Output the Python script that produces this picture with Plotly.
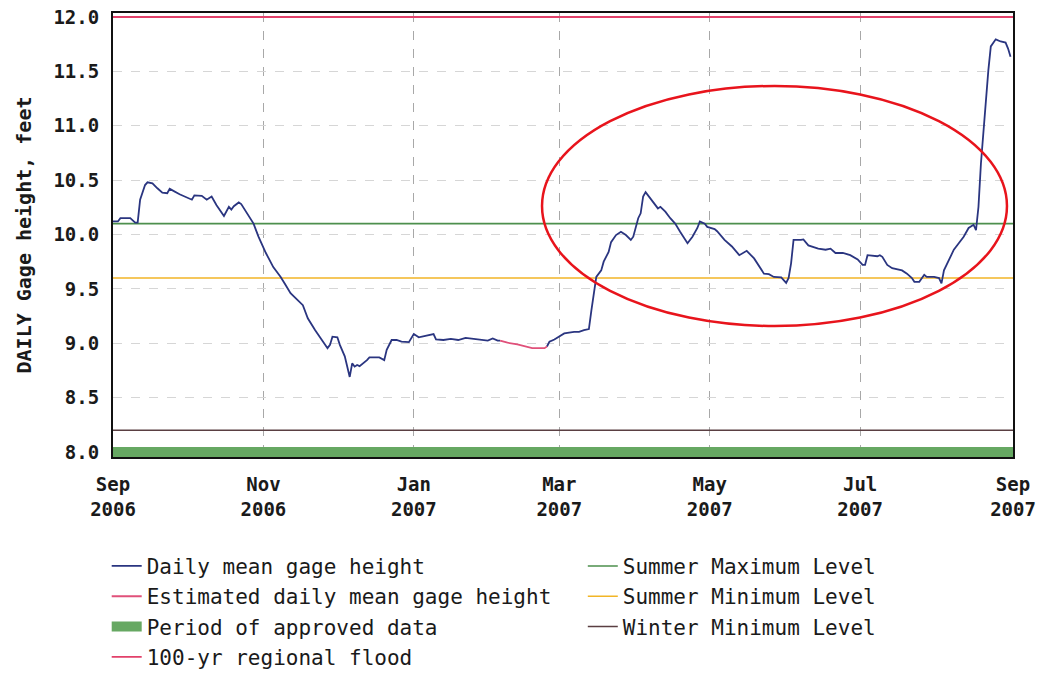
import pandas as pd
import plotly.graph_objects as go

# Gage record: days counted from 2006-09-01, values in feet
start = pd.Timestamp("2006-09-01")
end = pd.Timestamp("2007-09-01")

fall_day = [0, 2, 3, 7, 9, 10, 11, 13, 14, 16, 18, 20, 22, 23, 27, 32, 33, 36, 38, 40,
            42, 45, 47, 48, 49, 51, 52, 54, 57, 59, 62, 65, 68, 70, 72, 77, 79, 82, 85, 87,
            88, 89, 91, 92, 94, 95, 96, 97, 98, 99, 100, 103, 104, 108, 110, 111, 113, 115, 117, 120,
            122, 124, 126, 130, 131, 134, 137, 140, 143, 147, 152, 154, 156, 157]
fall_ft = [10.12, 10.12, 10.15, 10.15, 10.11, 10.11, 10.32, 10.455, 10.48, 10.47, 10.425, 10.385, 10.38, 10.42, 10.37,
           10.32, 10.36, 10.355, 10.32, 10.35, 10.27, 10.17, 10.255, 10.23, 10.26, 10.295, 10.28, 10.21, 10.10, 9.98,
           9.83, 9.70, 9.61, 9.535, 9.46, 9.35, 9.23, 9.12, 9.015, 8.955, 8.985, 9.06, 9.055, 8.985, 8.88,
           8.77, 8.69, 8.815, 8.785, 8.80, 8.79, 8.845, 8.87, 8.87, 8.845, 8.94, 9.03, 9.03, 9.015, 9.01,
           9.085, 9.055, 9.065, 9.085, 9.035, 9.03, 9.04, 9.03, 9.05, 9.04, 9.025, 9.045, 9.025, 9.025]

est_day = [157, 160, 164, 167, 170, 175, 176]
est_ft = [9.025, 9.005, 8.99, 8.975, 8.955, 8.955, 8.97]

spring_day = [176, 177, 179, 181, 183, 187, 189, 191, 193, 194, 195, 196, 198, 199, 201, 202, 204, 206, 208, 210,
              211, 212, 213, 214, 215, 216, 217, 219, 221, 222, 224, 226, 228, 230, 232, 233, 235, 237, 238, 240,
              241, 244, 245, 248, 251, 254, 257, 260, 264, 266, 268, 271, 273, 274, 275, 276, 279, 280, 282, 286,
              289, 291, 293, 296, 299, 302, 304, 305, 306, 310, 311, 312, 314, 316, 320, 322, 324, 325, 327, 329,
              330, 333, 335, 336, 337, 339, 341, 343, 345, 347, 349, 350, 351, 352, 353, 354, 355, 356, 358, 360,
              362, 363, 364]
spring_ft = [8.97, 9.015, 9.035, 9.065, 9.09, 9.105, 9.105, 9.12, 9.13, 9.30,
             9.44, 9.61, 9.67, 9.75, 9.84, 9.93, 9.995, 10.025, 9.995, 9.95,
             9.98, 10.07, 10.15, 10.195, 10.35, 10.39, 10.36, 10.29, 10.24, 10.255,
             10.21, 10.15, 10.10, 10.025, 9.95, 9.92, 9.98, 10.06, 10.12, 10.10,
             10.07, 10.05, 10.03, 9.95, 9.89, 9.81, 9.85, 9.78, 9.64, 9.635,
             9.61, 9.605, 9.555, 9.60, 9.735, 9.95, 9.95, 9.955, 9.90, 9.87,
             9.86, 9.87, 9.83, 9.83, 9.81, 9.77, 9.72, 9.72, 9.81, 9.80,
             9.81, 9.795, 9.72, 9.69, 9.67, 9.64, 9.60, 9.565, 9.565, 9.63,
             9.61, 9.61, 9.60, 9.55, 9.67, 9.77, 9.86, 9.92, 9.98, 10.06,
             10.09, 10.04, 10.255, 10.655, 10.96, 11.27, 11.51, 11.73, 11.795, 11.775,
             11.765, 11.71, 11.635]

# Reference levels, feet
flood_100yr = 12.0
summer_max = 10.1
summer_min = 9.6
winter_min = 8.2
approved_level = 8.0

mono = "DejaVu Sans Mono"


def to_dates(days):
    return [(start + pd.Timedelta(days=d)).strftime("%Y-%m-%d") for d in days]


blue_x = to_dates(fall_day) + [None] + to_dates(spring_day)
blue_y = fall_ft + [None] + spring_ft
span = [start.strftime("%Y-%m-%d"), end.strftime("%Y-%m-%d")]

fig = go.Figure()

fig.add_trace(go.Scatter(
    x=span, y=[approved_level] * 2, mode="lines",
    line=dict(color="#66a862", width=10),
    name="Period of approved data", legend="legend", legendrank=3,
))
fig.add_trace(go.Scatter(
    x=span, y=[winter_min] * 2, mode="lines",
    line=dict(color="#5a3f42", width=1.6),
    name="Winter Minimum Level", legend="legend2", legendrank=3,
))
fig.add_trace(go.Scatter(
    x=span, y=[summer_min] * 2, mode="lines",
    line=dict(color="#f2b526", width=1.6),
    name="Summer Minimum Level", legend="legend2", legendrank=2,
))
fig.add_trace(go.Scatter(
    x=span, y=[summer_max] * 2, mode="lines",
    line=dict(color="#4d8f4d", width=1.6),
    name="Summer Maximum Level", legend="legend2", legendrank=1,
))
fig.add_trace(go.Scatter(
    x=span, y=[flood_100yr] * 2, mode="lines",
    line=dict(color="#e2416a", width=1.8),
    name="100-yr regional flood", legend="legend", legendrank=4,
))
fig.add_trace(go.Scatter(
    x=blue_x, y=blue_y, mode="lines", connectgaps=False,
    line=dict(color="#2a3580", width=1.8),
    name="Daily mean gage height", legend="legend", legendrank=1,
))
fig.add_trace(go.Scatter(
    x=to_dates(est_day), y=est_ft, mode="lines",
    line=dict(color="#e0507a", width=1.8),
    name="Estimated daily mean gage height", legend="legend", legendrank=2,
))

legend_font = dict(family=mono, size=21, color="#1a1a1a")

fig.update_layout(
    width=1041, height=674,
    margin=dict(l=113, r=28, t=13, b=217, autoexpand=False),
    paper_bgcolor="white", plot_bgcolor="white",
    showlegend=True,
    legend=dict(
        x=-0.007, y=-0.200,
        xanchor="left", yanchor="top", orientation="v",
        font=legend_font, bgcolor="rgba(0,0,0,0)", traceorder="normal",
    ),
    legend2=dict(
        x=0.522, y=-0.200,
        xanchor="left", yanchor="top", orientation="v",
        font=legend_font, bgcolor="rgba(0,0,0,0)", traceorder="normal",
    ),
    shapes=[dict(
        type="circle", xref="paper", yref="paper",
        x0=0.4767, x1=0.9933, y0=0.295, y1=0.8356,
        line=dict(color="#e8141c", width=2.5),
    )],
)

fig.update_xaxes(
    type="date", range=span,
    tick0=span[0], dtick="M2", tickformat="%b<br>%Y",
    showgrid=True, gridcolor="#a8a8a8", griddash="dash", gridwidth=1,
    showline=True, linecolor="#111", linewidth=2, mirror=True,
    ticks="", ticklabelstandoff=9,
    tickfont=dict(family=mono, size=19, color="#1a1a1a", weight="bold"),
    zeroline=False,
)
fig.update_yaxes(
    range=[7.954, 12.037],
    tick0=8.0, dtick=0.5, tickformat=".1f",
    showgrid=True, gridcolor="#d6d6d6", griddash="dash", gridwidth=1,
    showline=True, linecolor="#111", linewidth=2, mirror=True,
    ticks="", ticklabelstandoff=8,
    tickfont=dict(family=mono, size=19, color="#1a1a1a", weight="bold"),
    title=dict(text="DAILY Gage height, feet", standoff=16,
               font=dict(family=mono, size=20, color="#1a1a1a", weight="bold")),
    zeroline=False,
)

fig.write_html("out.html")
